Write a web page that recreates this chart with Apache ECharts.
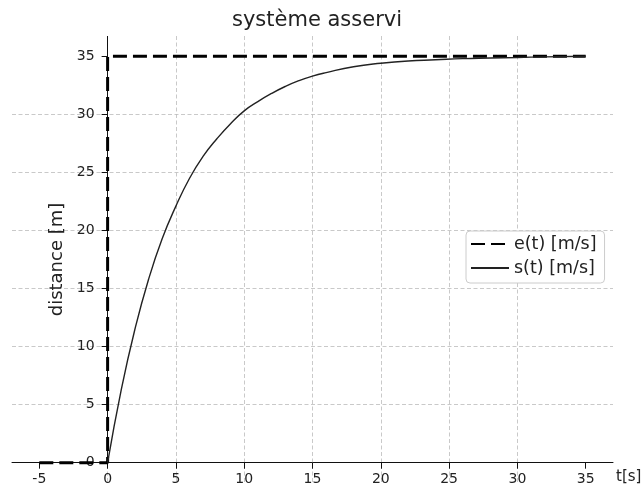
<!DOCTYPE html>
<html><head><meta charset="utf-8">
<script src="https://cdn.jsdelivr.net/npm/echarts@6/dist/echarts.min.js"></script>
<style>html,body{margin:0;padding:0;background:#fff}#c{width:643px;height:493px}</style>
</head><body><div id="c"></div>
<script>
const titleText = "système asservi";
const xName = "t[s]";
const yName = "distance [m]";
const eName = "e(t) [m/s]";
const sName = "s(t) [m/s]";
// e(t): step input
const eT = [-5, 0, 0, 35];
const eV = [0, 0, 35, 35];
// s(t): response
const sT = [0, 1, 2, 3, 4, 5, 6, 7, 8, 9, 10, 11, 12, 13, 14, 15, 16, 18, 20, 22, 24, 26, 28, 30, 32, 35];
const sV = [0, 6.3, 11.5, 15.8, 19.3, 22.1, 24.5, 26.4, 27.9, 29.2, 30.3, 31.1, 31.8, 32.4, 32.9, 33.3, 33.6, 34.1, 34.4, 34.6, 34.7, 34.8, 34.85, 34.9, 34.95, 35.0];
const xTicks = [-5, 0, 5, 10, 15, 20, 25, 30, 35];
const yTicks = [0, 5, 10, 15, 20, 25, 30, 35];
const xMin = -7, xMax = 37;
const yMin = -1.75, yMax = 36.75;

const font = "DejaVu Sans";
const ink = '#222';
const gridLine = {show: true, showMinLine: false, showMaxLine: false,
  lineStyle: {color: '#bbb', type: [4, 2.5], width: 0.8}};
const chart = echarts.init(document.getElementById('c'));
chart.setOption({
  animation: false,
  title: {text: titleText, left: 312, top: 5, textAlign: 'center',
    textStyle: {fontFamily: font, fontSize: 21, fontWeight: 'normal', color: ink}},
  grid: {left: 12, right: 30, top: 36, bottom: 10, containLabel: false, outerBoundsMode: 'none'},
  legend: {
    orient: 'vertical', left: 466, top: 231, padding: [4, 8, 6, 4],
    borderColor: '#ccc', borderWidth: 1, borderRadius: 4, backgroundColor: '#fff',
    itemWidth: 38, itemHeight: 14, itemGap: 6,
    itemStyle: {opacity: 0},
    textStyle: {fontFamily: font, fontSize: 17.5, color: ink},
    data: [eName, sName]
  },
  xAxis: {
    type: 'value', min: xMin, max: xMax, interval: 5, position: 'bottom', offset: 0,
    name: xName, nameLocation: 'end', nameGap: 3,
    nameTextStyle: {fontFamily: font, fontSize: 15, color: ink, verticalAlign: 'top', padding: [7, 0, 0, 0]},
    axisLine: {show: true, onZero: false, lineStyle: {color: '#111', width: 1}},
    axisTick: {show: true, length: 6, lineStyle: {color: '#111', width: 1}, customValues: xTicks},
    axisLabel: {fontFamily: font, fontSize: 14, color: ink, margin: 10, customValues: xTicks},
    splitLine: gridLine
  },
  yAxis: {
    type: 'value', min: yMin, max: yMax, interval: 5, position: 'left', offset: 0,
    name: yName, nameLocation: 'middle', nameRotate: 90, nameGap: 37,
    nameTextStyle: {fontFamily: font, fontSize: 18, color: ink},
    axisLine: {show: false, onZero: false},
    axisTick: {show: true, length: 6, lineStyle: {color: '#111', width: 1}, customValues: yTicks},
    axisLabel: {fontFamily: font, fontSize: 14, color: ink, margin: 13, customValues: yTicks},
    splitLine: gridLine
  },
  series: [
    {name: eName, type: 'line', symbol: 'none', z: 3,
     data: eT.map((t, i) => [t, eV[i]]),
     lineStyle: {color: '#000', width: 3, type: [14, 6]}, itemStyle: {color: '#000'},
     markLine: {silent: true, symbol: 'none', label: {show: false}, z: 2,
       lineStyle: {color: '#111', width: 1, type: 'solid'},
       data: [[{coord: [0, 0]}, {coord: [0, yMax]}]]}},
    {name: sName, type: 'line', symbol: 'none', smooth: true, z: 4,
     data: sT.map((t, i) => [t, sV[i]]),
     lineStyle: {color: ink, width: 1.4}, itemStyle: {color: ink}}
  ]
});
// place the axes at zero (matplotlib "spines at zero")
const x0 = chart.convertToPixel({xAxisIndex: 0}, 0);
const xL = chart.convertToPixel({xAxisIndex: 0}, xMin);
const y0 = chart.convertToPixel({yAxisIndex: 0}, 0);
const yB = chart.convertToPixel({yAxisIndex: 0}, yMin);
chart.setOption({xAxis: {offset: -(yB - y0)}, yAxis: {offset: -(x0 - xL)}});
</script></body></html>
